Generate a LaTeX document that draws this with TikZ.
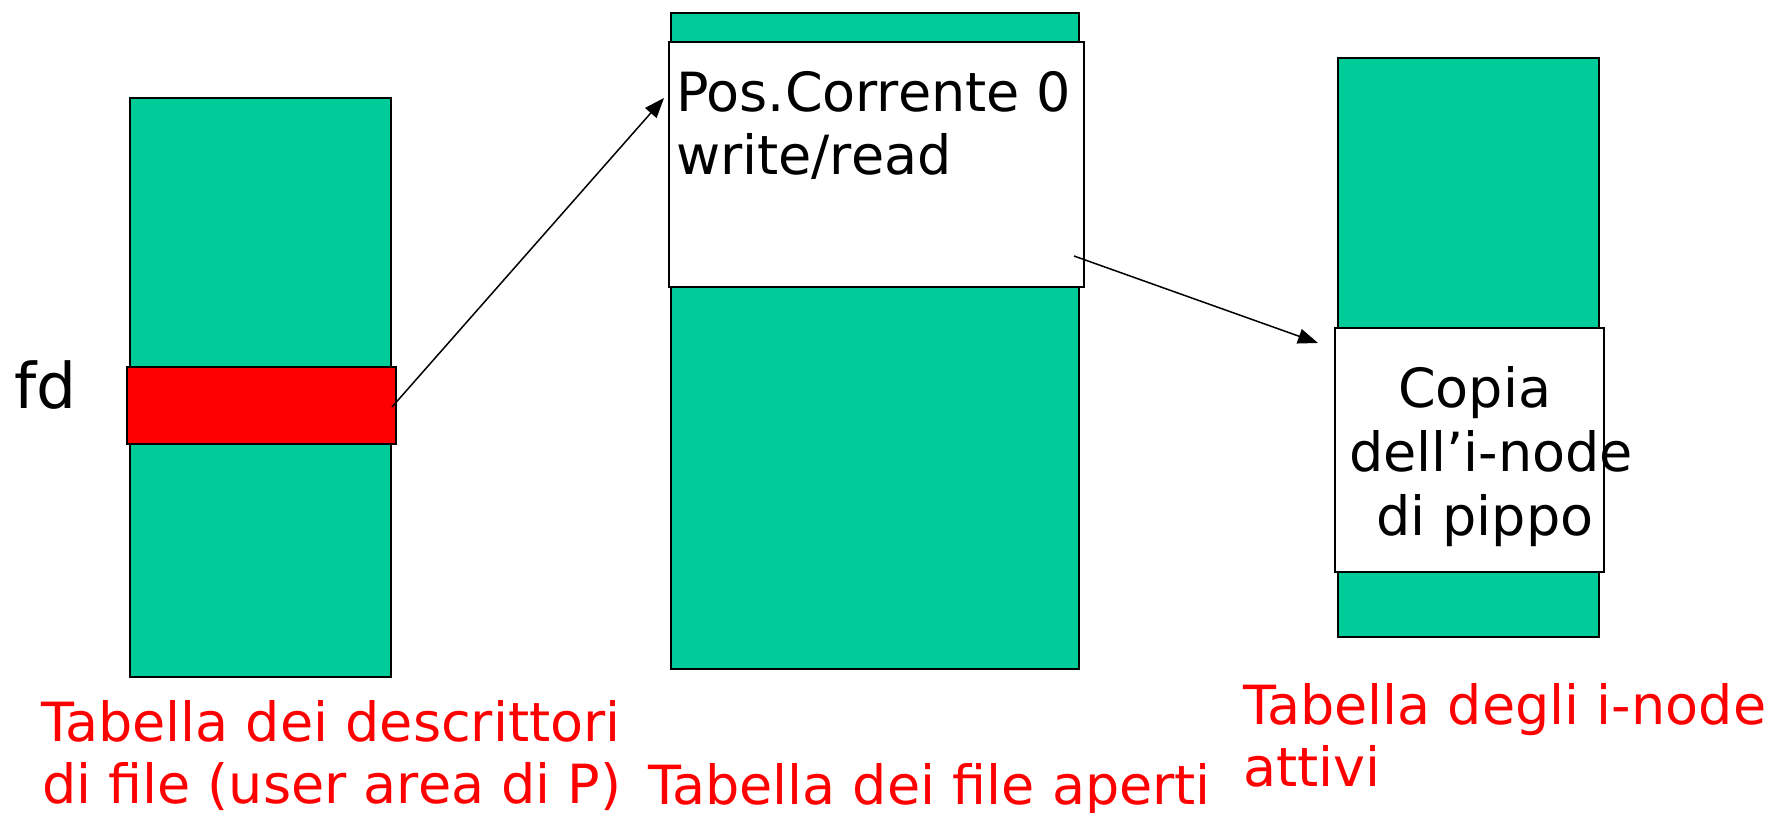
\documentclass[tikz,border=0pt]{standalone}
\usepackage{fontspec}
\setmainfont{DejaVu Sans}
\usetikzlibrary{arrows.meta}
\definecolor{tgreen}{RGB}{0,204,153}
\begin{document}
\begin{tikzpicture}[x=1pt,y=-1pt,
 box/.style={draw=black, line width=1.5pt, inner sep=0pt, outer sep=0pt, anchor=north west},
 gbox/.style={box, fill=tgreen},
 wbox/.style={box, fill=white},
 rbox/.style={box, fill=red},
 txt/.style={inner sep=0pt, outer sep=0pt, anchor=base west, font=\fontsize{54}{63}\selectfont},
 rtxt/.style={txt, text=red},
 arr/.style={line width=1.5pt, -{Triangle[length=20pt,width=15pt]}}]
\useasboundingbox (0,0) rectangle (1773,813);
% left table
\node[gbox, minimum width=261pt, minimum height=579pt] (ltab) at (130,98) {};
\node[rbox, minimum width=269pt, minimum height=77pt] (fdrow) at (127,367) {};
\node[txt, font=\fontsize{63}{70}\selectfont] (fd) at (14,408) {fd};
% middle table
\node[gbox, minimum width=408pt, minimum height=656pt] (mtab) at (671,13) {};
\node[wbox, minimum width=415pt, minimum height=245pt] (entry) at (669,42) {};
\node[txt] (pos) at (676,112) {Pos.Corrente 0};
\node[txt] (wr) at (676,175) {write/read};
% right table
\node[gbox, minimum width=261pt, minimum height=579pt] (rtab) at (1338,58) {};
\node[wbox, minimum width=269pt, minimum height=244pt] (inode) at (1335,328) {};
\node[txt] (c1) at (1398,407) {Copia};
\node[txt] (c2) at (1349,471) {dell’i-node};
\node[txt] (c3) at (1376,535) {di pippo};
% labels
\node[rtxt] (l1a) at (41,741) {Tabella dei descrittori};
\node[rtxt] (l1b) at (42,803) {di file (user area di P)};
\node[rtxt] (l2) at (648,804) {Tabella dei file aperti};
\node[rtxt] (l3a) at (1243,724) {Tabella degli i-node};
\node[rtxt] (l3b) at (1243,786) {attivi};
% arrows
\coordinate (s1) at (392,407);
\coordinate (e1) at (664,98);
\coordinate (s2) at (1074,256);
\coordinate (e2) at (1318,343);
\draw[arr] (s1) -- (e1);
\draw[arr] (s2) -- (e2);
\end{tikzpicture}
\end{document}
